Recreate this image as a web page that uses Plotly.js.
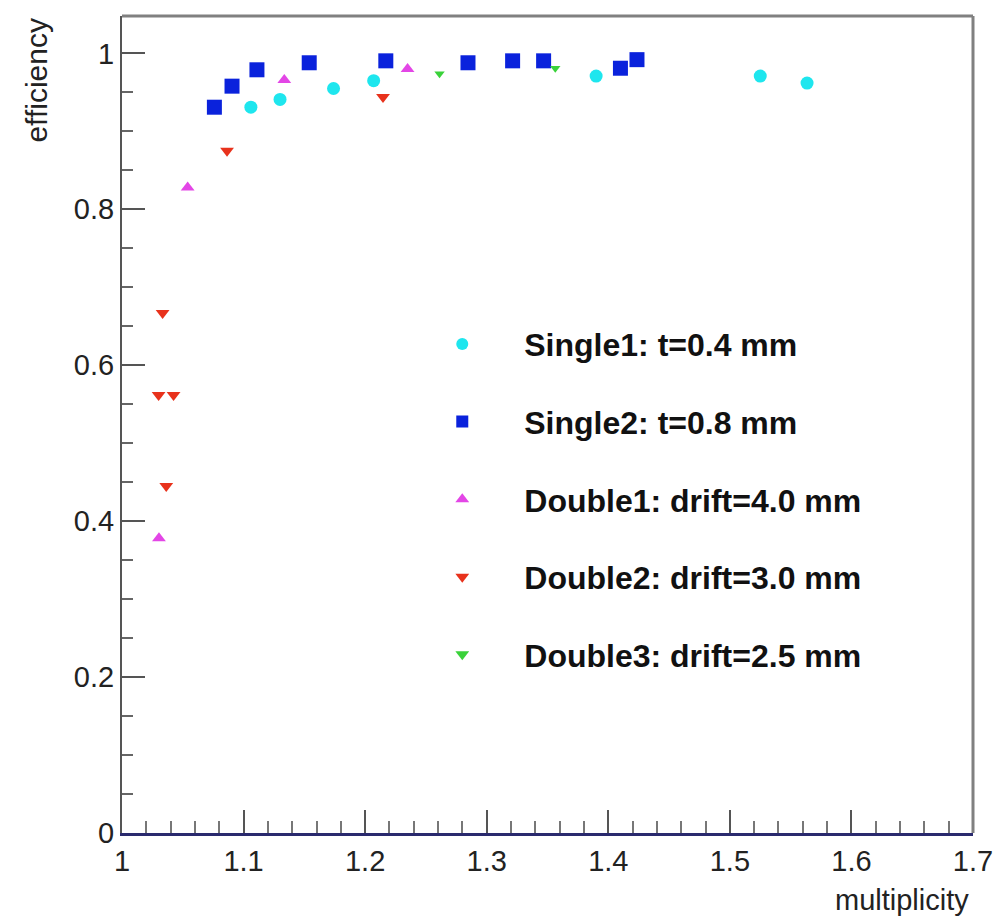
<!DOCTYPE html>
<html><head><meta charset="utf-8">
<script src="https://cdn.plot.ly/plotly-3.0.1.min.js"></script>
<style>html,body{margin:0;padding:0;background:#fff}</style>
</head><body>
<div id="chart" style="width:999px;height:918px"></div>
<script>
// Series data (multiplicity, efficiency)
const seriesNames = ["Single1: t=0.4 mm", "Single2: t=0.8 mm", "Double1: drift=4.0 mm", "Double2: drift=3.0 mm", "Double3: drift=2.5 mm"];

const single1_x = [1.106, 1.130, 1.174, 1.207, 1.390, 1.525, 1.5635];
const single1_y = [0.931, 0.941, 0.955, 0.965, 0.971, 0.971, 0.962];

const single2_x = [1.076, 1.0905, 1.111, 1.154, 1.217, 1.2846, 1.3213, 1.3468, 1.410, 1.4236];
const single2_y = [0.931, 0.958, 0.979, 0.988, 0.9905, 0.988, 0.9905, 0.9905, 0.981, 0.992];

const double1_x = [1.0304, 1.054, 1.1335, 1.2349];
const double1_y = [0.378, 0.828, 0.966, 0.980];

const double2_x = [1.0301, 1.0334, 1.0364, 1.0424, 1.0864, 1.2147];
const double2_y = [0.562, 0.667, 0.445, 0.562, 0.875, 0.944];

const double3_x = [1.2612, 1.3564];
const double3_y = [0.974, 0.981];

const xTitle = "multiplicity";
const yTitle = "efficiency";

const colors = ["#1ee6ee", "#0a22dc", "#e346e6", "#e8321c", "#3ad23a"];
const symbols = ["circle", "square", "triangle-up", "triangle-down", "triangle-down"];
const sizes = [13, 15, 12, 12, 9];

const xs = [single1_x, single2_x, double1_x, double2_x, double3_x];
const ys = [single1_y, single2_y, double1_y, double2_y, double3_y];

const traces = seriesNames.map((n, i) => ({
  type: "scatter", mode: "markers", name: n, legendgroup: "g" + i,
  x: xs[i], y: ys[i],
  marker: {symbol: symbols[i], size: sizes[i], color: colors[i], line: {width: 0}},
  hoverinfo: "x+y+name"
}));

const tickFont = {family: "Liberation Sans, Arial, sans-serif", size: 29, color: "#222"};

const layout = {
  width: 999, height: 918,
  margin: {l: 122, r: 26, t: 16, b: 84.5, pad: 0},
  paper_bgcolor: "#fff", plot_bgcolor: "#fff",
  showlegend: true,
  legend: {
    x: 0.327, xanchor: "left", y: 0.632, yanchor: "top",
    bgcolor: "rgba(0,0,0,0)", borderwidth: 0,
    font: {family: "Liberation Sans, Arial, sans-serif", size: 32, weight: 700, color: "#111"},
    traceorder: "grouped", tracegroupgap: 33, itemwidth: 114, itemsizing: "constant"
  },
  xaxis: {
    range: [1, 1.7], tick0: 1, dtick: 0.1, ticks: "inside", ticklen: 23, tickwidth: 2, tickcolor: "#555",
    showline: true, linecolor: "#2a2a6e", linewidth: 3, showgrid: false, zeroline: false,
    tickfont: tickFont,
    minor: {dtick: 0.02, ticks: "inside", ticklen: 12, tickwidth: 2, tickcolor: "#777", showgrid: false}
  },
  yaxis: {
    range: [0, 1.048], tick0: 0, dtick: 0.2, ticks: "inside", ticklen: 23, tickwidth: 2, tickcolor: "#555",
    showline: true, linecolor: "#555", linewidth: 2, showgrid: false, zeroline: false,
    tickfont: tickFont,
    minor: {dtick: 0.05, ticks: "inside", ticklen: 11, tickwidth: 2, tickcolor: "#666", showgrid: false}
  },
  shapes: [
    {type: "line", xref: "paper", yref: "paper", x0: 0, x1: 1, y0: 1, y1: 1, line: {color: "#808080", width: 3}},
    {type: "line", xref: "paper", yref: "paper", x0: 1, x1: 1, y0: 0, y1: 1, line: {color: "#808080", width: 3}}
  ],
  annotations: [
    {text: yTitle, xref: "paper", yref: "paper", x: -0.1, y: 1.001, xanchor: "center", yanchor: "top",
     textangle: -90, showarrow: false, font: {family: "Liberation Sans, Arial, sans-serif", size: 30, color: "#222"}},
    {text: xTitle, xref: "paper", yref: "paper", x: 0.9977, y: -0.0825, xanchor: "right", yanchor: "middle",
     showarrow: false, font: {family: "Liberation Sans, Arial, sans-serif", size: 29, color: "#222"}}
  ]
};

Plotly.newPlot("chart", traces, layout, {displayModeBar: false, staticPlot: true});
</script>
</body></html>
